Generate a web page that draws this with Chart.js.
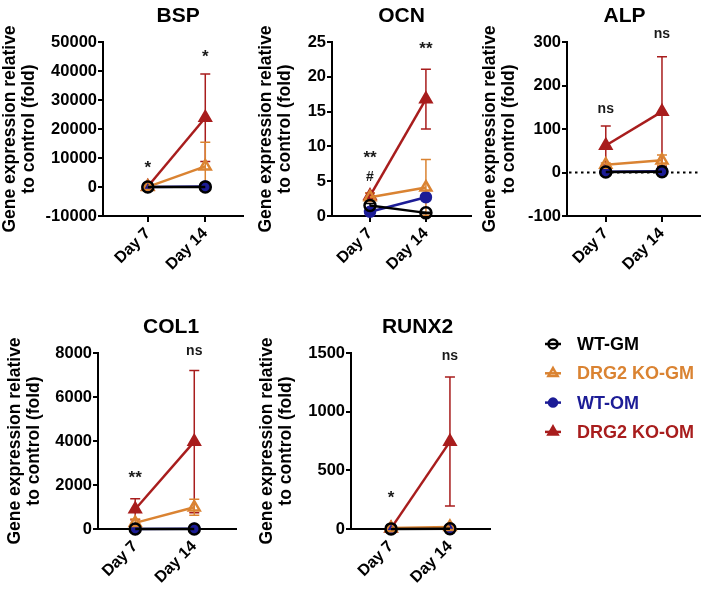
<!DOCTYPE html>
<html>
<head>
<meta charset="utf-8">
<script src="https://cdn.jsdelivr.net/npm/chart.js@4.4.1/dist/chart.umd.min.js"></script>
<style>
  html, body { margin: 0; padding: 0; background: #fff; }
  #wrap { position: relative; width: 709px; height: 594px; overflow: hidden; }
  #wrap canvas { position: absolute; }
</style>
</head>
<body>
<div id="wrap">
  <canvas id="c-bsp"></canvas>
  <canvas id="c-ocn"></canvas>
  <canvas id="c-alp"></canvas>
  <canvas id="c-col1"></canvas>
  <canvas id="c-runx2"></canvas>
</div>
<script>
var days = ['Day 7', 'Day 14'];
var groups = ['WT-GM', 'DRG2 KO-GM', 'WT-OM', 'DRG2 KO-OM'];

// mean fold change, one row per group: [day 7, day 14]
var bspMean = [[1, 40], [30, 7100], [5, 150], [150, 23900]];
var bspSd   = [[0.3, 15], [800, 8300], [2, 60], [300, 15100]];
var bspSig  = [['*'], ['*']];

var ocnMean = [[1.5, 0.45], [2.7, 4.1], [0.6, 2.7], [2.9, 16.8]];
var ocnSd   = [[0.3, 0.1], [0.6, 4.0], [0.2, 0.3], [0.4, 4.3]];
var ocnSig  = [['**', '#'], ['**']];

var alpMean = [[1, 1.5], [18, 28], [1.5, 3], [62, 140]];
var alpSd   = [[0.3, 0.5], [4, 12], [0.5, 1], [45, 126]];
var alpSig  = [['ns'], ['ns']];

var col1Mean = [[1, 2], [280, 985], [3, 6], [900, 3970]];
var col1Sd   = [[0.3, 1], [170, 365], [1, 2], [480, 3230]];
var col1Sig  = [['**'], ['ns']];

var runx2Mean = [[1, 1.5], [8, 18], [2, 3], [5, 745]];
var runx2Sd   = [[0.3, 0.5], [6, 12], [1, 1], [3, 550]];
var runx2Sig  = [['*'], ['ns']];

var colors = ['#000000', '#da8332', '#1c1c96', '#a81d1d'];
var fills = ['rgba(0,0,0,0)', 'rgba(0,0,0,0)', '#1c1c96', '#a81d1d'];
var shapes = ['circle', 'triangle', 'circle', 'triangle'];
var radii = [5.5, 6.3, 5, 6.3];

var FONT = 'Arial, "Liberation Sans", Helvetica, sans-serif';
Chart.defaults.font.family = FONT;
Chart.defaults.color = '#000';

var panels = [
    { id: 'c-bsp', title: 'BSP', mean: bspMean, sd: bspSd, sig: bspSig, sigY: [[8300], [46500]],
      box: [0, 0, 252, 290], yw: 103, pad: [42, 5], xh: 74, xr: [-0.78, 1.66], yr: [-10000, 50000, 10000], titleDx: 5 },
    { id: 'c-ocn', title: 'OCN', mean: ocnMean, sd: ocnSd, sig: ocnSig, sigY: [[9.0, 5.65], [24.7]],
      box: [256, 0, 224, 290], yw: 76, pad: [42, 3], xh: 74, xr: [-0.68, 1.81], yr: [0, 25, 5], titleDx: 0 },
    { id: 'c-alp', title: 'ALP', mean: alpMean, sd: alpSd, sig: alpSig, sigY: [[147], [320]],
      box: [480, 0, 229, 290], yw: 87, pad: [42, 0], xh: 74, xr: [-0.69, 1.68], yr: [-100, 300, 100], titleDx: -9, zeroLine: true },
    { id: 'c-col1', title: 'COL1', mean: col1Mean, sd: col1Sd, sig: col1Sig, sigY: [[2530], [8090]],
      box: [5, 290, 240, 304], yw: 93, pad: [63, 5], xh: 65, xr: [-0.63, 1.71], yr: [0, 8000, 2000], titleDx: 4 },
    { id: 'c-runx2', title: 'RUNX2', mean: runx2Mean, sd: runx2Sd, sig: runx2Sig, sigY: [[309], [1475]],
      box: [257, 290, 452, 304], yw: 94, pad: [63, 219], xh: 65, xr: [-0.68, 1.68], yr: [0, 1500, 500], titleDx: -3, legend: true }
];

function marker(ctx, i, x, y) {
    ctx.save();
    ctx.strokeStyle = colors[i];
    ctx.fillStyle = fills[i];
    ctx.lineWidth = 2.5;
    Chart.helpers.drawPoint(ctx, { pointStyle: shapes[i], radius: radii[i] - 1, borderWidth: 2.5, rotation: 0 }, x, y);
    ctx.restore();
}

var deco = {
    id: 'deco',
    beforeDatasetsDraw: function (chart, args, opts) {
        var ctx = chart.ctx, xs = chart.scales.x, ys = chart.scales.y, area = chart.chartArea;
        ctx.save();
        if (opts.zeroLine) {
            var y0 = ys.getPixelForValue(0);
            ctx.strokeStyle = '#000';
            ctx.lineWidth = 2;
            ctx.setLineDash([2.5, 3.5]);
            ctx.beginPath();
            ctx.moveTo(area.left + 2, y0);
            ctx.lineTo(area.right, y0);
            ctx.stroke();
            ctx.setLineDash([]);
        }
        // error bars (mean +/- SD), behind lines and points
        for (var d = chart.data.datasets.length - 1; d >= 0; d--) {
            var ds = chart.data.datasets[d];
            ctx.strokeStyle = ds.borderColor;
            ctx.lineWidth = 1.5;
            ds.data.forEach(function (pt, j) {
                var sd = ds.errors[j];
                var x = xs.getPixelForValue(pt.x);
                var hi = ys.getPixelForValue(pt.y + sd);
                var lo = ys.getPixelForValue(pt.y - sd);
                ctx.beginPath();
                ctx.moveTo(x, hi); ctx.lineTo(x, lo);
                ctx.moveTo(x - 5, hi); ctx.lineTo(x + 5, hi);
                ctx.moveTo(x - 5, lo); ctx.lineTo(x + 5, lo);
                ctx.stroke();
            });
        }
        ctx.restore();
    },
    afterDraw: function (chart, args, opts) {
        var ctx = chart.ctx, xs = chart.scales.x, ys = chart.scales.y, area = chart.chartArea;
        ctx.save();
        // panel title
        ctx.fillStyle = '#000';
        ctx.font = 'bold 21px ' + FONT;
        ctx.textAlign = 'center';
        ctx.textBaseline = 'alphabetic';
        ctx.fillText(opts.title, (area.left + area.right) / 2 + opts.titleDx, area.top - 20);

        // significance marks
        ctx.fillStyle = '#1a1a1a';
        opts.sig.forEach(function (marks, j) {
            marks.forEach(function (txt, k) {
                var star = txt.indexOf('*') >= 0;
                var fs = star ? 17 : 14;
                ctx.font = 'bold ' + fs + 'px ' + FONT;
                var y = ys.getPixelForValue(opts.sigY[j][k]) + (star ? 0.58 : 0.3) * fs;
                ctx.fillText(txt, xs.getPixelForValue(j), y);
            });
        });

        // legend
        if (opts.legend) {
            ctx.textAlign = 'left';
            ctx.textBaseline = 'middle';
            ctx.font = 'bold 18px ' + FONT;
            groups.forEach(function (g, i) {
                var y = area.top - 9 + i * 29.3;
                var cx = area.right + 63;
                ctx.strokeStyle = colors[i];
                ctx.lineWidth = 2.5;
                ctx.beginPath();
                ctx.moveTo(cx - 8, y);
                ctx.lineTo(cx + 8, y);
                ctx.stroke();
                marker(ctx, i, cx, y);
                ctx.fillStyle = colors[i];
                ctx.fillText(g, area.right + 87, y + 1);
            });
        }
        ctx.restore();
    }
};

function makeChart(p) {
    var canvas = document.getElementById(p.id);
    canvas.width = p.box[2];
    canvas.height = p.box[3];
    canvas.style.left = p.box[0] + 'px';
    canvas.style.top = p.box[1] + 'px';

    var datasets = groups.map(function (g, i) {
        return {
            label: g,
            data: p.mean[i].map(function (v, j) { return { x: j, y: v }; }),
            errors: p.sd[i],
            borderColor: colors[i],
            backgroundColor: fills[i],
            borderWidth: 2.5,
            pointStyle: shapes[i],
            pointRadius: radii[i],
            pointBorderWidth: 2.5,
            pointBackgroundColor: fills[i],
            pointBorderColor: colors[i],
            tension: 0,
            clip: false
        };
    });

    var axisGrid = { display: true, drawOnChartArea: false, drawTicks: true, color: '#000', lineWidth: 2 };

    return new Chart(canvas, {
        type: 'line',
        data: { datasets: datasets },
        options: {
            responsive: false,
            animation: false,
            events: [],
            layout: { padding: { top: p.pad[0], right: p.pad[1], left: 0, bottom: 0 } },
            plugins: {
                legend: { display: false },
                tooltip: { enabled: false },
                deco: { title: p.title, titleDx: p.titleDx, sig: p.sig, sigY: p.sigY, zeroLine: !!p.zeroLine, legend: !!p.legend }
            },
            scales: {
                x: {
                    type: 'linear',
                    min: p.xr[0],
                    max: p.xr[1],
                    afterBuildTicks: function (s) { s.ticks = [{ value: 0 }, { value: 1 }]; },
                    afterFit: function (s) { s.height = p.xh; },
                    ticks: {
                        autoSkip: false,
                        minRotation: 45,
                        maxRotation: 45,
                        padding: 2,
                        color: '#000',
                        font: { size: 16, weight: 'bold' },
                        callback: function (v) { return days[v]; }
                    },
                    grid: Object.assign({ tickLength: 6 }, axisGrid),
                    border: { display: true, color: '#000', width: 2 }
                },
                y: {
                    min: p.yr[0],
                    max: p.yr[1],
                    afterFit: function (s) { s.width = p.yw; },
                    ticks: {
                        stepSize: p.yr[2],
                        padding: 1,
                        color: '#000',
                        font: { size: 16.5, weight: 'bold' },
                        callback: function (v) { return String(v); }
                    },
                    title: {
                        display: true,
                        text: ['Gene expression relative', 'to control (fold)'],
                        color: '#000',
                        font: { size: 17.5, weight: 'bold', lineHeight: 1.08 },
                        padding: { top: 1, bottom: 0 }
                    },
                    grid: Object.assign({ tickLength: 5 }, axisGrid),
                    border: { display: true, color: '#000', width: 2 }
                }
            }
        },
        plugins: [deco]
    });
}

panels.forEach(makeChart);
</script>
</body>
</html>
